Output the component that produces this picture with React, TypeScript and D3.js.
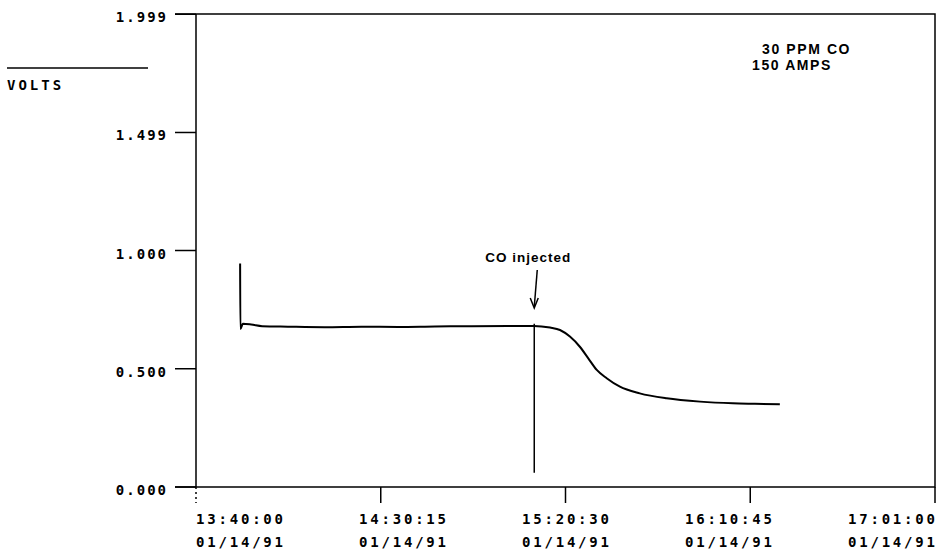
import * as d3 from 'd3';
import React, { useRef, useEffect } from 'react';

// sensor trace
const times = [
  '13:52:00', '13:52:04', '13:52:45', '13:55:00', '13:58:00', '14:05:00', '14:15:00',
  '14:25:00', '14:35:00', '14:45:00', '14:55:00', '15:05:00', '15:11:54', '15:16:18',
  '15:19:00', '15:21:42', '15:24:24', '15:26:42', '15:29:00', '15:31:42', '15:35:18',
  '15:40:42', '15:48:00', '15:57:06', '16:06:00', '16:12:00', '16:18:48',
];
const volts = [
  0.945, 0.668, 0.69, 0.687, 0.68, 0.678, 0.676,
  0.678, 0.677, 0.679, 0.68, 0.681, 0.681, 0.674,
  0.664, 0.636, 0.593, 0.544, 0.495, 0.46, 0.424,
  0.396, 0.375, 0.361, 0.354, 0.352, 0.35,
];

const xTicks = ['13:40:00', '14:30:15', '15:20:30', '16:10:45', '17:01:00'];
const xDate = '01/14/91';
const yTicks = [0, 0.5, 1.0, 1.499, 1.999];
const yTickLabels = ['0.000', '0.500', '1.000', '1.499', '1.999'];

const injectTime = '15:12:00';
const notes = ['30 PPM CO', '150 AMPS'];

const parse = (t: string) => d3.timeParse('%Y-%m-%d %H:%M:%S')('1991-01-14 ' + t) as Date;

const App = () => {
  const ref = useRef<SVGSVGElement>(null);
  const W = 944, H = 552;
  const margin = { top: 14, right: 9, bottom: 65, left: 196 };

  useEffect(() => {
    const svg = d3.select(ref.current);
    svg.selectAll('*').remove();
    const mono = '"DejaVu Sans Mono", monospace';
    const sans = '"Liberation Sans", Arial, sans-serif';

    const x = d3.scaleTime()
      .domain([parse(xTicks[0]), parse(xTicks[xTicks.length - 1])])
      .range([margin.left, W - margin.right]);
    const y = d3.scaleLinear()
      .domain([0, 2])
      .range([H - margin.bottom, margin.top]);

    const x0 = margin.left, x1 = W - margin.right;
    const yb = H - margin.bottom, yt = margin.top;

    // frame
    svg.append('path')
      .attr('d', `M${x0 - 21},${yt}H${x1}V${yb}H${x0 - 21}M${x0},${yt}V${yb}`)
      .attr('fill', 'none').attr('stroke', '#000').attr('stroke-width', 1.5);

    // y axis ticks
    yTicks.forEach((v, i) => {
      svg.append('line')
        .attr('x1', x0 - 21).attr('x2', x0).attr('y1', y(v)).attr('y2', y(v))
        .attr('stroke', '#000').attr('stroke-width', 1.5);
      svg.append('text')
        .attr('x', x0 - 28).attr('y', y(v) + 8)
        .attr('text-anchor', 'end')
        .style('font-family', mono).style('font-weight', 'bold')
        .style('font-size', '14px').style('letter-spacing', '2px')
        .text(yTickLabels[i]);
    });

    // x axis ticks, labels slide from start- to end-anchored
    xTicks.forEach((t, i) => {
      const px = x(parse(t));
      svg.append('line')
        .attr('x1', px).attr('x2', px).attr('y1', yb).attr('y2', yb + 16)
        .attr('stroke', '#000').attr('stroke-width', 1.5)
        .attr('stroke-dasharray', i === 0 ? '2,3' : null);
      const frac = i / (xTicks.length - 1);
      [t, xDate].forEach((s, j) => {
        const txt = svg.append('text')
          .attr('y', j === 0 ? 524 : 547)
          .style('font-family', mono).style('font-weight', 'bold')
          .style('font-size', '14px').style('letter-spacing', '2.8px')
          .text(s);
        const w = (txt.node() as SVGTextElement).getComputedTextLength() - 2.8;
        txt.attr('x', px - w * frac);
      });
    });

    // units label
    svg.append('line').attr('x1', 7).attr('x2', 148).attr('y1', 68).attr('y2', 68)
      .attr('stroke', '#000').attr('stroke-width', 1.5);
    svg.append('text').attr('x', 7).attr('y', 90)
      .style('font-family', mono).style('font-weight', 'bold')
      .style('font-size', '14px').style('letter-spacing', '3px')
      .text('VOLTS');

    // notes
    svg.append('text').attr('x', 762).attr('y', 54)
      .style('font-family', sans).style('font-size', '14px').style('letter-spacing', '1.6px')
      .style('font-weight', 'bold').text(notes[0]);
    svg.append('text').attr('x', 752).attr('y', 70)
      .style('font-family', sans).style('font-size', '14px').style('letter-spacing', '1.6px')
      .style('font-weight', 'bold').text(notes[1]);

    // injection marker
    const xi = x(parse(injectTime));
    svg.append('line').attr('x1', xi).attr('x2', xi).attr('y1', y(0.69)).attr('y2', y(0.06))
      .attr('stroke', '#000').attr('stroke-width', 1.5);
    svg.append('text').attr('x', xi - 6).attr('y', 262).attr('text-anchor', 'middle')
      .style('font-family', sans).style('font-size', '13.5px').style('letter-spacing', '1px')
      .style('font-weight', 'bold').text('CO injected');
    svg.append('path')
      .attr('d', `M${xi + 3},270L${xi},307`)
      .attr('stroke', '#000').attr('stroke-width', 1.5).attr('fill', 'none');
    svg.append('path')
      .attr('d', `M${xi - 4},298L${xi},308L${xi + 4},298`)
      .attr('stroke', '#000').attr('stroke-width', 1.5).attr('fill', 'none');

    // trace
    const data = times.map((t, i) => ({ t: parse(t), v: volts[i] }));
    svg.append('path')
      .datum(data)
      .attr('fill', 'none')
      .attr('stroke', '#000')
      .attr('stroke-width', 2)
      .attr('stroke-linejoin', 'round')
      .attr('d', d3.line<{ t: Date; v: number }>()
        .curve(d3.curveMonotoneX)
        .x((d) => x(d.t))
        .y((d) => y(d.v)));
  }, []);

  return (
    <svg ref={ref} width={W} height={H}
      style={{ position: 'absolute', left: 0, top: 0, background: '#fff' }} />
  );
};

export default App;
